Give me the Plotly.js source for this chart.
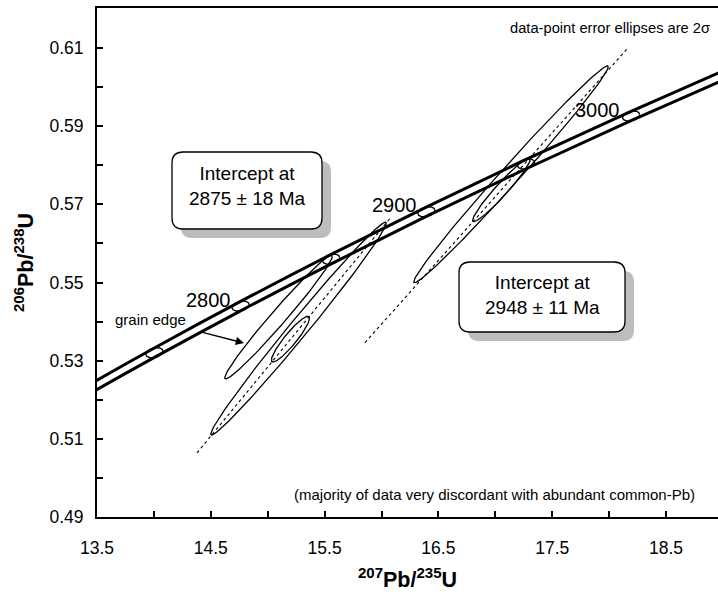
<!DOCTYPE html>
<html><head><meta charset="utf-8">
<script src="https://cdn.plot.ly/plotly-3.0.1.min.js"></script>
<style>html,body{margin:0;padding:0;background:#fff;} #chart{width:718px;height:599px;}</style>
</head><body><div id="chart"></div>
<script>
// ---- Concordia (207Pb/235U, 206Pb/238U) at ages in Ma ----
const concAge = [2600, 2650, 2700, 2750, 2800, 2850, 2900, 2950, 3000, 3050, 3100];
const concX = [11.9437, 12.5970, 13.2834, 14.0042, 14.7616, 15.5575, 16.3935, 17.2709, 18.1931, 19.1619, 20.1795];
const concY = [0.49679, 0.50846, 0.52019, 0.53203, 0.54396, 0.55598, 0.56810, 0.58031, 0.59261, 0.60501, 0.61751];
const concBand = 0.0012;

// ---- Age markers on concordia ----
const markAge = [2750, 2800, 2850, 2900, 2950, 3000];
const markX = [14.0042, 14.7616, 15.5575, 16.3935, 17.2709, 18.1931];
const markY = [0.53203, 0.54396, 0.55598, 0.56810, 0.58031, 0.59261];
const markSX = 0.075, markSY = 0.0013, markRho = 0.3;
const markLabels = ["2800", "2900", "3000"];

// ---- Data-point error ellipses (2 sigma) ----
const ellX   = [15.271, 15.095, 15.200, 17.138, 17.054];
const ellSX  = [0.7715, 0.4728, 0.1676, 0.855, 0.2536];
const ellY   = [0.53821, 0.54115, 0.53551, 0.57769, 0.57372];
const ellSY  = [0.02723, 0.01582, 0.00585, 0.02774, 0.008146];
const ellRho = [0.991, 0.983, 0.916, 0.992, 0.960];

// ---- Discordia lines ----
const disc1X = [14.379, 16.075], disc1Y = [0.50641, 0.56641];
const disc2X = [15.855, 18.157], disc2Y = [0.53462, 0.60974];

// ---- Tick labels ----
const xTicks = [13.5, 14.5, 15.5, 16.5, 17.5, 18.5];
const yTicks = [0.49, 0.51, 0.53, 0.55, 0.57, 0.59, 0.61];

const W = 718, H = 599, M = {l: 97, r: 0, t: 8, b: 82};
const xRange = [13.5, 18.957], yRange = [0.49, 0.62024];
function px2x(px){ return xRange[0] + (px - M.l) / (W - M.l - M.r) * (xRange[1] - xRange[0]); }
function px2y(py){ return yRange[0] + (H - M.b - py) / (H - M.t - M.b) * (yRange[1] - yRange[0]); }
function ellipse(X, sX, Y, sY, rho){
  const xs = [], ys = [], n = 160;
  const k = Math.sqrt(1 - rho * rho);
  for (let i = 0; i <= n; i++){
    const t = 2 * Math.PI * i / n;
    xs.push(X + sX * Math.cos(t));
    ys.push(Y + sY * (rho * Math.cos(t) + k * Math.sin(t)));
  }
  return {xs, ys};
}
const FONT = 'Arial, "Liberation Sans", sans-serif';
const traces = [];
traces.push({x: concX, y: concY.map(v => v + concBand), mode: 'lines', line: {color: '#000', width: 3, shape: 'spline'}});
traces.push({x: concX, y: concY.map(v => v - concBand), mode: 'lines', line: {color: '#000', width: 3, shape: 'spline'}});
for (let i = 0; i < markX.length; i++){
  const e = ellipse(markX[i], markSX, markY[i], markSY, markRho);
  traces.push({x: e.xs, y: e.ys, mode: 'lines', line: {color: '#000', width: 1.3}});
}
for (let i = 0; i < ellX.length; i++){
  const e = ellipse(ellX[i], ellSX[i], ellY[i], ellSY[i], ellRho[i]);
  traces.push({x: e.xs, y: e.ys, mode: 'lines', line: {color: '#000', width: 1.3}});
}
traces.push({x: disc1X, y: disc1Y, mode: 'lines', line: {color: '#000', width: 1.1, dash: '3px,3px'}});
traces.push({x: disc2X, y: disc2Y, mode: 'lines', line: {color: '#000', width: 1.1, dash: '3px,3px'}});

function rr(cx, cy, w, h, r){
  const L = cx - w, R = cx + w, B = cy - h, T = cy + h;
  return `M${L + r},${B} L${R - r},${B} Q${R},${B} ${R},${B + r} L${R},${T - r} Q${R},${T} ${R - r},${T} L${L + r},${T} Q${L},${T} ${L},${T - r} L${L},${B + r} Q${L},${B} ${L + r},${B} Z`;
}
function box(cxPx, cyPx, w, h){
  const base = {type: 'path', xref: 'x', yref: 'y', xsizemode: 'pixel', ysizemode: 'pixel',
    xanchor: px2x(cxPx), yanchor: px2y(cyPx), layer: 'above'};
  return [
    Object.assign({}, base, {path: rr(9, -9, w, h, 11), fillcolor: '#bdbdbd', line: {width: 0}}),
    Object.assign({}, base, {path: rr(0, 0, w, h, 11), fillcolor: '#ffffff', line: {color: '#000', width: 1.3}})
  ];
}
const shapes = [].concat(box(247, 190.5, 75, 38.5), box(542, 297, 83, 35));

const annotations = [
  {x: px2x(247), y: px2y(186), text: 'Intercept at<br>2875 ± 18 Ma', showarrow: false, font: {size: 19, family: FONT, color: '#000'}},
  {x: px2x(542), y: px2y(295), text: 'Intercept at<br>2948 ± 11 Ma', showarrow: false, font: {size: 19, family: FONT, color: '#000'}},
  {x: px2x(208.5), y: px2y(299.5), text: markLabels[0], showarrow: false, font: {size: 20, family: FONT, color: '#000'}},
  {x: px2x(394), y: px2y(204.5), text: markLabels[1], showarrow: false, font: {size: 20, family: FONT, color: '#000'}},
  {x: px2x(597.5), y: px2y(110), text: markLabels[2], showarrow: false, font: {size: 20, family: FONT, color: '#000'}},
  {x: px2x(150), y: px2y(319), text: 'grain edge', showarrow: false, font: {size: 15, family: FONT, color: '#000'}},
  {x: px2x(244), y: px2y(343), ax: -43, ay: -11, text: '', showarrow: true, arrowhead: 2, arrowsize: 1.1, arrowwidth: 1.5, arrowcolor: '#000', standoff: 0},
  {xref: 'paper', yref: 'paper', x: (712 - M.l) / (W - M.l), xanchor: 'right', y: (H - M.b - 28) / (H - M.t - M.b), yanchor: 'middle',
   text: 'data-point error ellipses are 2σ', showarrow: false, font: {size: 14.7, family: FONT, color: '#000'}},
  {xref: 'paper', yref: 'paper', x: (697 - M.l) / (W - M.l), xanchor: 'right', y: (H - M.b - 494) / (H - M.t - M.b), yanchor: 'middle',
   text: '(majority of data very discordant with abundant common-Pb)', showarrow: false, font: {size: 15, family: FONT, color: '#000'}}
];

const layout = {
  width: W, height: H, margin: M, showlegend: false, hovermode: false,
  paper_bgcolor: '#fff', plot_bgcolor: '#fff',
  font: {family: FONT, color: '#000'},
  xaxis: {range: xRange, tickvals: xTicks, ticktext: xTicks.map(v => v.toFixed(1)),
    ticks: 'inside', ticklen: 6, tickwidth: 2, tickcolor: '#000',
    minor: {tickvals: [14, 15, 16, 17, 18], ticks: 'inside', ticklen: 6, tickwidth: 2, tickcolor: '#000'},
    showline: true, linewidth: 2, linecolor: '#000', mirror: true, showgrid: false, zeroline: false,
    tickfont: {size: 17.5, family: FONT, color: '#000'}, ticklabelstandoff: 14,
    title: {text: '<sup>207</sup>Pb/<sup>235</sup>U', font: {size: 21.5, family: FONT, weight: 700, color: '#000'}, standoff: 15}},
  yaxis: {range: yRange, tickvals: yTicks, ticktext: yTicks.map(v => v.toFixed(2)),
    ticks: 'inside', ticklen: 6, tickwidth: 2, tickcolor: '#000',
    minor: {tickvals: [0.50, 0.52, 0.54, 0.56, 0.58, 0.60, 0.62], ticks: 'inside', ticklen: 6, tickwidth: 2, tickcolor: '#000'},
    showline: true, linewidth: 2, linecolor: '#000', mirror: false, showgrid: false, zeroline: false,
    tickfont: {size: 17.5, family: FONT, color: '#000'}, ticklabelstandoff: 8,
    title: {text: '<sup>206</sup>Pb/<sup>238</sup>U', font: {size: 21.5, family: FONT, weight: 700, color: '#000'}, standoff: 10}},
  shapes: shapes, annotations: annotations
};
Plotly.newPlot('chart', traces, layout, {displayModeBar: false, staticPlot: true});
</script>
</body></html>
